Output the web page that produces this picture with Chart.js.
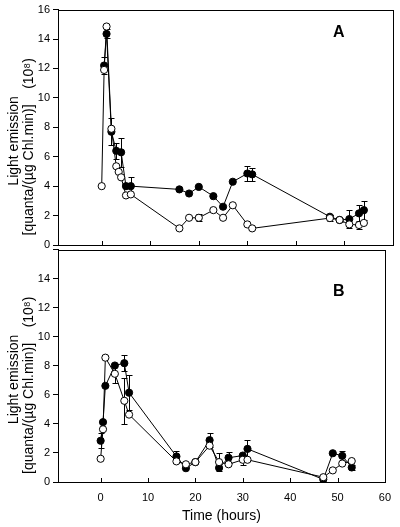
<!DOCTYPE html>
<html>
<head>
<meta charset="utf-8">
<script src="https://cdn.jsdelivr.net/npm/chart.js@4.4.0/dist/chart.umd.min.js"></script>
<style>
body { margin: 0; background: #fff; }
#wrap { position: relative; width: 400px; height: 527px; }
.pane { position: absolute; left: 0; width: 400px; }
#paneA { top: 0; height: 255px; }
#paneB { top: 240px; height: 287px; }
.tag { position: absolute; font: bold 16px "Liberation Sans", Arial, sans-serif; line-height: 1; }
</style>
</head>
<body>
<div id="wrap">
    <div class="pane" id="paneA"><canvas id="chartA"></canvas></div>
    <div class="pane" id="paneB"><canvas id="chartB"></canvas></div>
    <div class="tag" style="left:333px; top:24px;">A</div>
    <div class="tag" style="left:333px; top:283px;">B</div>
</div>
<script>
// 축 눈금
const xTicks = [0, 10, 20, 30, 40, 50, 60];
const yTicks = [0, 2, 4, 6, 8, 10, 12, 14, 16];

// 패널 A - 빈 원
const timeA_open = [0, 0.5, 1, 2, 3, 3.5, 4, 5, 6, 16, 18, 20, 23, 25, 27, 30, 31, 47, 49, 51, 53, 54];
const valA_open  = [4.0, 11.9, 14.85, 7.9, 5.35, 4.97, 4.6, 3.37, 3.44, 1.13, 1.85, 1.85, 2.37, 1.85, 2.7, 1.4, 1.13, 1.83, 1.7, 1.4, 1.36, 1.5];
const errA_open  = [0, 0, 0, 0, 0, 0, 0, 0, 0, 0, 0, 0.25, 0, 0, 0, 0, 0, 0.2, 0.15, 0, 0.25, 0];

// 패널 A - 채운 원
const timeA_fill = [0.5, 1, 2, 3, 4, 5, 6, 16, 18, 20, 23, 25, 27, 30, 31, 47, 49, 51, 53, 54];
const valA_fill  = [12.2, 14.35, 7.7, 6.4, 6.3, 4.0, 4.0, 3.78, 3.5, 3.95, 3.32, 2.6, 4.3, 4.86, 4.8, 1.92, 1.7, 1.76, 2.15, 2.37];
const errA_fill  = [0.6, 0.3, 0.9, 0.55, 1.0, 0, 0.6, 0, 0, 0, 0, 0, 0, 0.5, 0.45, 0.15, 0, 0.6, 0.6, 0.65];

// 패널 B - 빈 원
const timeB_open = [0, 0.5, 1, 3, 5, 6, 16, 18, 20, 23, 25, 27, 30, 31, 47, 49, 51, 53];
const valB_open  = [1.6, 3.63, 8.56, 7.45, 5.59, 4.64, 1.42, 1.22, 1.37, 2.5, 1.37, 1.22, 1.53, 1.53, 0.33, 0.8, 1.27, 1.44];
const errB_open  = [0, 0, 0, 0.65, 1.6, 0, 0, 0, 0, 0, 0.6, 0, 0.33, 0, 0, 0, 0, 0];

// 패널 B - 채운 원
const timeB_fill = [0, 0.5, 1, 3, 5, 6, 16, 18, 20, 23, 25, 27, 30, 31, 47, 49, 51, 53];
const valB_fill  = [2.84, 4.12, 6.62, 8.02, 8.18, 6.15, 1.76, 0.95, 1.37, 2.88, 0.97, 1.67, 1.82, 2.28, 0.18, 1.98, 1.8, 1.0];
const errB_fill  = [0.5, 0, 0, 0, 0.56, 1.2, 0.4, 0, 0, 0.48, 0, 0.38, 0, 0.6, 0, 0, 0.36, 0.2];

const FONT = '"Liberation Sans", Arial, sans-serif';
// 뒤쪽 공백은 회전된 제목을 위로 조금 올리기 위함
const yTitle = ['Light emission       ', '[quanta/(\u00b5g Chl.min)]    (10\u2078)          '];

function toPoints(t, v) {
    return t.map((x, i) => ({ x: x, y: v[i] }));
}

// 오차 막대, 틀, 안쪽 눈금
const extras = {
    id: 'extras',
    beforeDatasetsDraw(chart) {
        const ctx = chart.ctx;
        const xs = chart.scales.x, ys = chart.scales.y;
        ctx.save();
        ctx.strokeStyle = '#000';
        ctx.lineWidth = 1;
        chart.data.datasets.forEach(ds => {
            (ds.errors || []).forEach((e, i) => {
                if (!e) return;
                const p = ds.data[i];
                const x = Math.round(xs.getPixelForValue(p.x)) + 0.5;
                const y1 = Math.round(ys.getPixelForValue(p.y + e)) + 0.5;
                const y2 = Math.round(ys.getPixelForValue(p.y - e)) + 0.5;
                ctx.beginPath();
                ctx.moveTo(x, y1); ctx.lineTo(x, y2);
                ctx.moveTo(x - 3, y1); ctx.lineTo(x + 3, y1);
                ctx.moveTo(x - 3, y2); ctx.lineTo(x + 3, y2);
                ctx.stroke();
            });
        });
        ctx.restore();
    },
    afterDraw(chart) {
        const ctx = chart.ctx;
        const a = chart.chartArea;
        const xs = chart.scales.x;
        ctx.save();
        ctx.strokeStyle = '#000';
        ctx.lineWidth = 1;
        ctx.strokeRect(Math.round(a.left) + 0.5, Math.round(a.top) + 0.5,
            Math.round(a.right - a.left), Math.round(a.bottom - a.top));
        ctx.beginPath();
        xTicks.forEach(v => {
            const x = Math.round(xs.getPixelForValue(v)) + 0.5;
            ctx.moveTo(x, Math.round(a.bottom));
            ctx.lineTo(x, Math.round(a.bottom) - 4);
        });
        ctx.stroke();
        ctx.restore();
    }
};

function makePanel(id, openT, openV, openE, fillT, fillV, fillE, isBottom) {
    const ctx = document.getElementById(id).getContext('2d');
    return new Chart(ctx, {
        type: 'line',
        data: {
            datasets: [
                {
                    label: 'open',
                    data: toPoints(openT, openV),
                    errors: openE,
                    borderColor: '#000',
                    backgroundColor: '#fff',
                    borderWidth: 1,
                    pointRadius: 3.6,
                    pointBorderWidth: 1,
                    pointBackgroundColor: '#fff',
                    pointBorderColor: '#000',
                    tension: 0
                },
                {
                    label: 'filled',
                    data: toPoints(fillT, fillV),
                    errors: fillE,
                    borderColor: '#000',
                    backgroundColor: '#000',
                    borderWidth: 1,
                    pointRadius: 3.6,
                    pointBorderWidth: 1,
                    pointBackgroundColor: '#000',
                    pointBorderColor: '#000',
                    tension: 0
                }
            ]
        },
        options: {
            responsive: true,
            maintainAspectRatio: false,
            animation: false,
            layout: {
                padding: isBottom ? { top: 5, right: 7, bottom: 0, left: 0 } : { top: 9, right: 7, bottom: 10, left: 0 }
            },
            plugins: {
                legend: { display: false },
                tooltip: { enabled: false }
            },
            scales: {
                x: {
                    type: 'linear',
                    min: -9,
                    max: 60,
                    afterBuildTicks: s => { s.ticks = xTicks.map(v => ({ value: v })); },
                    afterFit: s => { s.height = isBottom ? 45 : 0; },
                    ticks: {
                        display: isBottom,
                        color: '#000',
                        padding: 9,
                        maxRotation: 0,
                        font: { family: FONT, size: 11 }
                    },
                    grid: { display: false, drawTicks: false },
                    border: { color: '#000', width: 1 },
                    title: {
                        display: isBottom,
                        text: 'Time (hours)',
                        color: '#000',
                        padding: { top: 0, bottom: 2 },
                        font: { family: FONT, size: 14 }
                    }
                },
                y: {
                    min: 0,
                    max: 16,
                    afterBuildTicks: s => { s.ticks = yTicks.map(v => ({ value: v })); },
                    afterFit: s => { s.width = 58; },
                    ticks: {
                        color: '#000',
                        padding: 3,
                        font: { family: FONT, size: 11 },
                        callback: v => (isBottom && v === 16) ? '' : v
                    },
                    grid: { drawOnChartArea: false, tickLength: 5, color: '#000' },
                    border: { color: '#000', width: 1 },
                    title: {
                        display: true,
                        text: yTitle,
                        color: '#000',
                        padding: { top: 6, bottom: 0 },
                        font: { family: FONT, size: 14, lineHeight: 1.1 }
                    }
                }
            }
        },
        plugins: [extras]
    });
}

makePanel('chartA', timeA_open, valA_open, errA_open, timeA_fill, valA_fill, errA_fill, false);
makePanel('chartB', timeB_open, valB_open, errB_open, timeB_fill, valB_fill, errB_fill, true);
</script>
</body>
</html>
